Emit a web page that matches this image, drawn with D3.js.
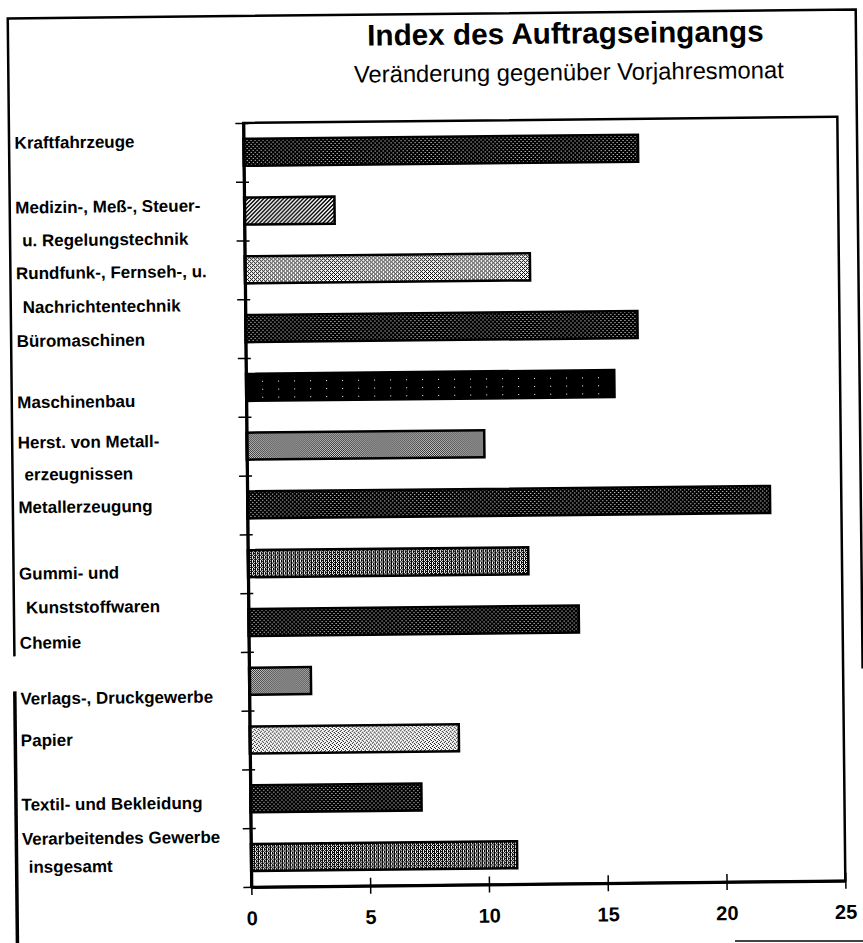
<!DOCTYPE html>
<html>
<head>
<meta charset="utf-8">
<script src="https://cdn.jsdelivr.net/npm/d3@7/dist/d3.min.js"></script>
<style>
  body { margin: 0; background: #fff; }
  svg text { font-family: "Liberation Sans", Arial, sans-serif; fill: #000; }
</style>
</head>
<body>
<div id="chart"></div>
<script>
// categories from top to bottom
var categories = ["Kraftfahrzeuge", "Medizintechnik", "Rundfunktechnik", "Büromaschinen",
  "Maschinenbau", "Metallerzeugnisse", "Metallerzeugung", "Gummi", "Chemie",
  "Verlag", "Papier", "Textil", "Insgesamt"];

// printed label lines per category
var labelLines = [
  ["Kraftfahrzeuge"],
  ["Medizin-, Meß-, Steuer-", "u. Regelungstechnik"],
  ["Rundfunk-, Fernseh-, u.", "Nachrichtentechnik"],
  ["Büromaschinen"],
  ["Maschinenbau"],
  ["Herst. von Metall-", "erzeugnissen"],
  ["Metallerzeugung"],
  ["Gummi- und", "Kunststoffwaren"],
  ["Chemie"],
  ["Verlags-, Druckgewerbe"],
  ["Papier"],
  ["Textil- und Bekleidung"],
  ["Verarbeitendes Gewerbe", "insgesamt"]
];

// change against same month of previous year, in %
var values = [16.6, 3.8, 12.0, 16.5, 15.5, 10.0, 22.0, 11.8, 13.9, 2.6, 8.8, 7.2, 11.2];

var xTicks = [0, 5, 10, 15, 20, 25];

var title = "Index des Auftragseingangs";
var subtitle = "Veränderung gegenüber Vorjahresmonat";

// ---- layout / style ----
var W = 863, H = 943;
var plot = {left: 247, right: 841, top: 121, bottom: 885};

// the labels sit loosely beside the bars in the original paste-up
var labelShift = [-12, -6, 1, 10, 12.5, -6, 0, 7.5, 18, 15, -2, 3.5, -21];
var labelGap   = [33, 33, 34, 33, 33, 32, 33, 34, 33, 33, 33, 33, 28];

// raster fills of the bars
var barFill = ["dark", "hatch", "light", "dark", "solid", "mid", "dark",
  "middark", "dark", "mid", "light2", "dark", "middark"];

var patterns = {
  dark:    [".###", "####", "##.#", "####"],
  solid:   ["################", "################", "################", "#######.########",
            "################", "################", "################", "################"],
  hatch:   ["..##", ".##.", "##..", "#..#"],
  light:   ["#.#.", ".#..", "#.#.", "...#"],
  light2:  ["#...", "..#.", ".#..", "...#"],
  mid:     ["#.", ".#"],
  middark: ["#.#.", ".###", "#.#.", "###."]
};

var svg = d3.select("#chart").append("svg")
  .attr("width", W)
  .attr("height", H);

var defs = svg.append("defs");
Object.keys(patterns).forEach(function(k) {
  var rows = patterns[k];
  var p = defs.append("pattern")
    .attr("id", "pat-" + k)
    .attr("patternUnits", "userSpaceOnUse")
    .attr("width", rows[0].length)
    .attr("height", rows.length);
  p.append("rect").attr("width", rows[0].length).attr("height", rows.length).attr("fill", "#fff");
  rows.forEach(function(r, j) {
    r.split("").forEach(function(c, i) {
      if (c === "#") p.append("rect").attr("x", i).attr("y", j).attr("width", 1).attr("height", 1).attr("fill", "#000");
    });
  });
});

// the scanned page is slightly skewed
var g = svg.append("g").attr("transform", "rotate(-0.6, 431, 470)");

// outer frame
g.append("path")
  .attr("d", "M12.5,652 L12.5,14 L860.5,14 L860.5,673")
  .attr("fill", "none").attr("stroke", "#000").attr("stroke-width", 2.5);
g.append("line")
  .attr("x1", 12.5).attr("x2", 12.5).attr("y1", 687).attr("y2", 960)
  .attr("stroke", "#000").attr("stroke-width", 3.5);

// titles
g.append("text")
  .attr("x", 570).attr("y", 34.5).attr("dy", "0.35em")
  .attr("text-anchor", "middle")
  .style("font-size", "29.7px").style("font-weight", "bold")
  .text(title);
g.append("text")
  .attr("x", 573).attr("y", 73.5).attr("dy", "0.35em")
  .attr("text-anchor", "middle")
  .style("font-size", "23.8px")
  .text(subtitle);

// scales
var x = d3.scaleLinear()
  .domain([0, 25])
  .range([plot.left, plot.right]);

var y = d3.scaleBand()
  .domain(categories)
  .range([plot.top, plot.bottom])
  .paddingInner(0.54)
  .paddingOuter(0.27);

var yIdx = d3.scaleLinear()
  .domain([0, categories.length])
  .range([plot.top, plot.bottom]);

// plot frame
g.append("rect")
  .attr("x", plot.left).attr("y", plot.top)
  .attr("width", plot.right - plot.left).attr("height", plot.bottom - plot.top)
  .attr("fill", "none").attr("stroke", "#000").attr("stroke-width", 2.5);

// bars
g.selectAll(".bar")
  .data(values)
  .enter().append("rect")
  .attr("class", "bar")
  .attr("x", x(0))
  .attr("y", function(d, i) { return y(categories[i]); })
  .attr("width", function(d) { return x(d) - x(0); })
  .attr("height", y.bandwidth())
  .attr("fill", function(d, i) { return "url(#pat-" + barFill[i] + ")"; })
  .attr("stroke", "#000")
  .attr("stroke-width", 2.5);

// y axis: ticks between the categories
var yAxis = g.append("g")
  .attr("transform", "translate(" + plot.left + ",0)")
  .call(d3.axisLeft(yIdx).tickValues(d3.range(categories.length + 1)).tickSize(8).tickSizeOuter(0).tickFormat(""));
yAxis.select(".domain").attr("stroke-width", 3);
yAxis.selectAll(".tick line").attr("x1", 5).attr("stroke-width", 1.5);

// x axis
var xAxis = g.append("g")
  .attr("transform", "translate(0," + plot.bottom + ")")
  .call(d3.axisBottom(x).tickValues(xTicks).tickSize(8).tickSizeOuter(0).tickPadding(16));
xAxis.select(".domain").attr("stroke-width", 3);
xAxis.selectAll(".tick line").attr("y1", -8).attr("stroke-width", 1.5);
xAxis.selectAll(".tick text")
  .style("font-size", "20px")
  .style("font-weight", "bold")
  .style("font-family", "'Liberation Sans', Arial, sans-serif");

// category labels
labelLines.forEach(function(lines, i) {
  var cy = y(categories[i]) + y.bandwidth() / 2 + labelShift[i];
  lines.forEach(function(t, j) {
    g.append("text")
      .attr("x", j === 0 ? 18 : 24.5)
      .attr("y", cy + j * labelGap[i])
      .attr("dy", "0.35em")
      .style("font-size", "17px")
      .style("font-weight", "bold")
      .text(t);
  });
});

// stray scan edge at bottom right
svg.append("line")
  .attr("x1", 735).attr("x2", 863).attr("y1", 941).attr("y2", 941)
  .attr("stroke", "#444").attr("stroke-width", 2);
</script>
</body>
</html>
